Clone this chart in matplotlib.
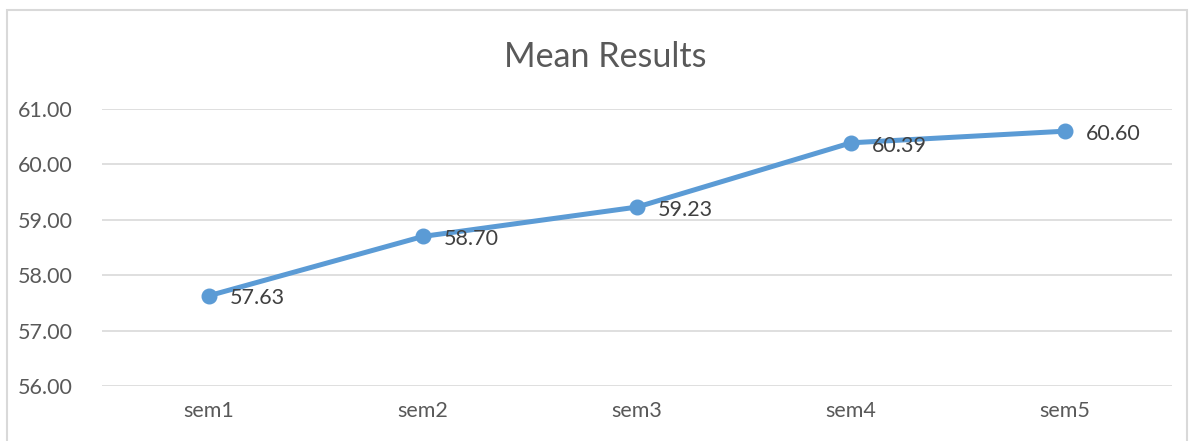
import matplotlib.pyplot as plt
from matplotlib.patches import Rectangle

categories = ["sem1", "sem2", "sem3", "sem4", "sem5"]
mean_results = [57.63, 58.70, 59.23, 60.39, 60.60]
y_ticks = [56, 57, 58, 59, 60, 61]

plt.rcParams['font.family'] = ['Lato', 'DejaVu Sans']
text_color = '#595959'
line_color = '#5B9BD5'

fig = plt.figure(figsize=(11.94, 4.41), dpi=100)
ax = fig.add_axes([0.0854, 0.1247, 0.8962, 0.6281])

# chart frame
fig.patches.append(Rectangle((7 / 1194, -0.05), 1180 / 1194, 1 - 10 / 441 + 0.05,
                             transform=fig.transFigure, fill=False,
                             edgecolor='#D9D9D9', linewidth=1.5))

x = list(range(len(categories)))
ax.plot(x, mean_results, color=line_color, linewidth=3.6, marker='o',
        markersize=10.5, solid_capstyle='round', zorder=3)

for xi, v in zip(x, mean_results):
    ax.annotate(f"{v:.2f}", (xi, v), xytext=(15, -2), textcoords='offset points',
                ha='left', va='center', fontsize=15.5, color='#404040', zorder=4)

ax.set_xlim(-0.5, len(categories) - 0.5)
ax.set_ylim(56, 61)
ax.set_yticks(y_ticks)
ax.set_yticklabels([f"{t:.2f}" for t in y_ticks])
ax.set_xticks(x)
ax.set_xticklabels(categories)
ax.tick_params(axis='both', length=0, labelsize=15.5, labelcolor=text_color)
ax.tick_params(axis='y', pad=21)
ax.tick_params(axis='x', pad=11)
ax.grid(axis='y', color='#D9D9D9', linewidth=1.2)
ax.set_axisbelow(True)
for s in ax.spines.values():
    s.set_visible(False)

fig.text(0.507, 1 - 57 / 441, "Mean Results", ha='center', va='center',
         fontsize=24.5, color=text_color)

fig.savefig("out.png", dpi=100)
